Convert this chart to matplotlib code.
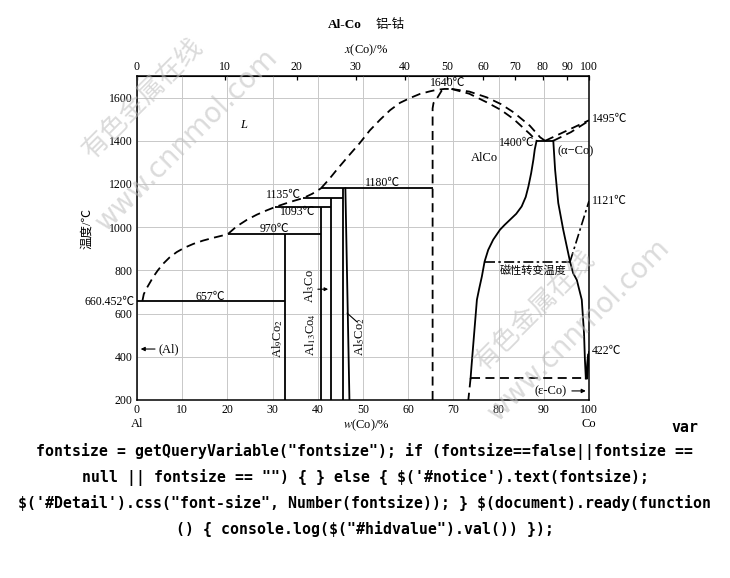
import numpy as np
import matplotlib
matplotlib.use('Agg')
import matplotlib.pyplot as plt

plt.rcParams['font.family'] = ['Liberation Serif', 'Noto Sans CJK SC', 'DejaVu Sans']
plt.rcParams['mathtext.fontset'] = 'stix'

# liquidus, Al side (dashed)
liq1_w = [1.2, 1.5, 2.1, 3.6, 4.6, 5.8, 7.2, 8.8, 10.5, 12.5, 14.6, 16.9, 19.8, 20.2]
liq1_t = [659, 690, 716, 770, 800, 831, 860, 885, 905, 923, 938, 951, 966, 970]
liq2_w = [20.2, 22.0, 24.3, 26.5, 28.7, 30.5, 32.6, 34.7, 36.8, 38.8, 40.7]
liq2_t = [970, 1003, 1034, 1058, 1078, 1093, 1108, 1122, 1135, 1155, 1180]
liq3_w = [40.7, 42.5, 44.2, 46.8, 49.3, 51.5, 53.8, 56.0, 58.2, 60.4, 62.6, 64.8, 66.3, 68.0, 69.6]
liq3_t = [1180, 1222, 1266, 1330, 1390, 1448, 1498, 1542, 1576, 1598, 1617, 1629, 1636, 1640, 1640]
# liquidus / solidus from AlCo maximum to the 1400 eutectic
liq4_w = [69.6, 73.5, 77.4, 80.5, 83.3, 86.9, 89.2, 90.3]
liq4_t = [1640, 1628, 1601, 1570, 1532, 1470, 1416, 1400]
sol4_w = [69.6, 73.5, 77.4, 80.5, 83.3, 86.9, 88.4]
sol4_t = [1640, 1618, 1578, 1543, 1501, 1432, 1400]
# liquidus / solidus of (alpha-Co)
liq5_w = [90.3, 100]
liq5_t = [1400, 1495]
sol5_w = [92.1, 96.0, 100]
sol5_t = [1400, 1440, 1493]
# AlCo boundaries
alco_l_w = [65.4, 65.4, 65.6, 66.3, 67.4, 68.5]
alco_l_t = [200, 1550, 1575, 1594, 1632, 1640]
alco_r_w = [88.4, 88.0, 87.7, 87.2, 86.6, 86.0, 85.1, 83.9, 82.5, 81.3, 80.3, 78.8, 77.7,
            76.9, 76.3, 75.7, 75.2, 74.6, 74.0, 73.8]
alco_r_t = [1400, 1360, 1313, 1250, 1189, 1140, 1096, 1062, 1034, 1010, 988, 942, 895,
            841, 772, 715, 664, 510, 355, 300]
alco_low_w = [73.8, 73.3]
alco_low_t = [300, 200]
# (alpha-Co) solvus
aco_w = [92.1, 92.5, 93.2, 94.3, 95.4, 95.8, 96.5, 97.3, 98.4, 98.9, 99.1, 99.3]
aco_t = [1400, 1266, 1112, 988, 880, 841, 787, 756, 664, 509, 385, 300]
# epsilon / alpha Co
eps1_w = [99.3, 99.8]
eps1_t = [300, 410]
eps2_w = [99.6, 100]
eps2_t = [300, 422]
# magnetic transition
mag_w = [76.9, 95.8]
mag_t = [840, 840]
curie_w = [95.8, 100]
curie_t = [840, 1121]
low_w = [73.8, 99.5]
low_t = [300, 300]

# invariant horizontals: (w from, w to, T)
iso_from = [0, 20.2, 30.5, 36.8, 40.7, 88.4]
iso_to = [32.7, 40.8, 43.0, 45.6, 65.4, 92.1]
iso_t = [657, 970, 1093, 1135, 1180, 1400]
# compound verticals: (w, T top)
cmp_w = [32.7, 40.8, 43.0, 45.6]
cmp_top = [970, 1093, 1135, 1180]
al5co2_r_w = [46.1, 47.0]
al5co2_r_t = [1180, 200]

temp_labels = ['657℃', '970℃', '1093℃', '1135℃', '1180℃', '1400℃', '1640℃']
temp_lab_w = [16.2, 30.5, 35.6, 32.5, 54.4, 88.0, 68.8]
temp_lab_t = [677, 993, 1072, 1150, 1206, 1391, 1668]

y_ticks = [200, 400, 600, 800, 1000, 1200, 1400, 1600]
w_ticks = [0, 10, 20, 30, 40, 50, 60, 70, 80, 90, 100]
x_ticks = [0, 10, 20, 30, 40, 50, 60, 70, 80, 90, 100]

M_AL, M_CO = 26.982, 58.933


def wt2at(w):
    w = np.asarray(w, float)
    with np.errstate(divide='ignore', invalid='ignore'):
        a = w / M_CO
        b = (100 - w) / M_AL
        return 100 * a / (a + b)


def at2wt(x):
    x = np.asarray(x, float)
    with np.errstate(divide='ignore', invalid='ignore'):
        m = x * M_CO
        n = (100 - x) * M_AL
        return 100 * m / (m + n)


fig = plt.figure(figsize=(7.3, 5.78), dpi=100)
ax = fig.add_axes([137 / 730, 1 - 400 / 578, 452 / 730, 324 / 578])
ax.set_xlim(0, 100)
ax.set_ylim(200, 1700)
ax.set_xticks(w_ticks)
ax.set_yticks(y_ticks)
ax.grid(True, color='#c8c8c8', lw=0.7)
ax.set_axisbelow(True)
ax.tick_params(length=0, labelsize=8.5, pad=3)
for s in ax.spines.values():
    s.set_linewidth(1.1)

k = dict(color='black', lw=1.3)
dash = dict(color='black', lw=1.3, ls=(0, (5, 3)))
dd = dict(color='black', lw=1.2, ls=(0, (6, 2, 1.5, 2)))

for w, t in [(liq1_w, liq1_t), (liq2_w, liq2_t), (liq3_w, liq3_t), (liq4_w, liq4_t),
             (sol4_w, sol4_t), (liq5_w, liq5_t), (sol5_w, sol5_t), (alco_l_w, alco_l_t),
             (alco_low_w, alco_low_t), (low_w, low_t)]:
    ax.plot(w, t, **dash)
for w, t in [(alco_r_w, alco_r_t), (aco_w, aco_t), (eps1_w, eps1_t), (eps2_w, eps2_t),
             (al5co2_r_w, al5co2_r_t)]:
    ax.plot(w, t, **k)
ax.plot(mag_w, mag_t, **dd)
ax.plot(curie_w, curie_t, **dd)
ax.hlines(iso_t, iso_from, iso_to, **k)
ax.vlines(cmp_w, 200, cmp_top, **k)

fs = 8.5
for lab, w, t in zip(temp_labels, temp_lab_w, temp_lab_t):
    ha = 'right' if lab == '1400℃' else 'center'
    ax.text(w, t, lab, fontsize=fs, ha=ha, va='center')
ax.text(100.7, 1503, '1495℃', fontsize=fs, ha='left', va='center', clip_on=False)
ax.text(100.7, 1122, '1121℃', fontsize=fs, ha='left', va='center', clip_on=False)
ax.text(100.7, 427, '422℃', fontsize=fs, ha='left', va='center', clip_on=False)
ax.text(-0.5, 654, '660.452℃', fontsize=fs, ha='right', va='center', clip_on=False)
ax.text(23.5, 1475, 'L', fontsize=9, style='italic', ha='center', va='center')
ax.text(76.8, 1322, 'AlCo', fontsize=9, ha='center', va='center')
ax.text(97.0, 1350, '(α−Co)', fontsize=9, ha='center', va='center', clip_on=False)
ax.text(87.6, 798, '磁性转变温度', fontsize=8, ha='center', va='center')
ax.text(91.6, 242, '(ε-Co)', fontsize=9, ha='center', va='center')
ax.annotate('', xy=(99.9, 242), xytext=(95.6, 242),
            arrowprops=dict(arrowstyle='-|>', lw=0.8, color='black', mutation_scale=6))
ax.text(4.8, 436, '(Al)', fontsize=9, ha='left', va='center')
ax.annotate('', xy=(0.2, 436), xytext=(4.6, 436),
            arrowprops=dict(arrowstyle='-|>', lw=0.8, color='black', mutation_scale=6))

ax.text(31.1, 483, r'Al$_9$Co$_2$', fontsize=9, rotation=90, ha='center', va='center')
ax.text(38.3, 504, r'Al$_{13}$Co$_4$', fontsize=9, rotation=90, ha='center', va='center')
ax.text(38.1, 726, r'Al$_3$Co', fontsize=9, rotation=90, ha='center', va='center')
ax.annotate('', xy=(42.9, 713), xytext=(39.4, 713),
            arrowprops=dict(arrowstyle='-|>', lw=0.8, color='black', mutation_scale=5))
ax.text(49.3, 492, r'Al$_5$Co$_2$', fontsize=9, rotation=90, ha='center', va='center')
ax.plot([46.5, 48.6], [602, 563], color='black', lw=0.8)

ax.set_ylabel('温度/℃', fontsize=9, labelpad=2)
ax.yaxis.set_label_coords(-0.097, 0.53)

top = ax.secondary_xaxis('top', functions=(wt2at, at2wt))
top.set_xticks(x_ticks)
top.tick_params(direction='in', length=3, width=0.9, labelsize=8.5, pad=2)

fig.text(137 / 730, 1 - 424 / 578, 'Al', fontsize=9, ha='center', va='center')
fig.text(589 / 730, 1 - 424 / 578, 'Co', fontsize=9, ha='center', va='center')
fig.text(366 / 730, 1 - 425 / 578, r'$w$(Co)/%', fontsize=9, ha='center', va='center')
fig.text(366 / 730, 1 - 50 / 578, r'$x$(Co)/%', fontsize=9, ha='center', va='center')
fig.text(345 / 730, 1 - 25 / 578, 'Al-Co', fontsize=9.5, weight='bold', ha='center', va='center')
fig.text(390 / 730, 1 - 25 / 578, '铝-钴', fontsize=9, ha='center', va='center')

# watermark
wm = dict(color='#bdbdbd', alpha=0.55, rotation=45, ha='center', va='center', zorder=10)
for cx, cy, cx2, cy2 in [(143, 98, 187, 140), (535, 310, 579, 330)]:
    fig.text(cx / 730, 1 - cy / 578, '有色金属在线', fontsize=19, family='Noto Sans CJK SC', **wm)
    fig.text(cx2 / 730, 1 - cy2 / 578, 'www.cnnmol.com', fontsize=20, family='DejaVu Sans', **wm)

code_lines = [
    'fontsize = getQueryVariable("fontsize"); if (fontsize==false||fontsize ==',
    'null || fontsize == "") { } else { $(\'#notice\').text(fontsize);',
    '$(\'#Detail\').css("font-size", Number(fontsize)); } $(document).ready(function',
    '() { console.log($("#hidvalue").val()) });',
]
code_y = [451, 478, 503, 529]
mono = dict(family='DejaVu Sans Mono', weight='bold', fontsize=10.7, va='center', parse_math=False)
fig.text(685 / 730, 1 - 428 / 578, 'var', ha='center', **mono)
for line, y in zip(code_lines, code_y):
    fig.text(0.5, 1 - y / 578, line, ha='center', **mono)

fig.savefig('out.png', dpi=100)
